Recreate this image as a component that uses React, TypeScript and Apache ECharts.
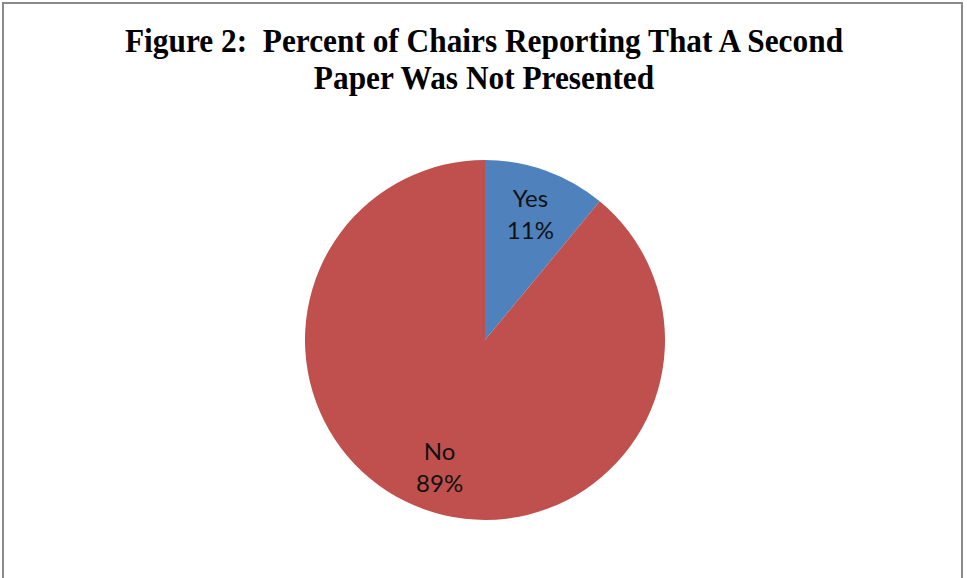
import React, { useEffect, useRef } from "react";
import * as echarts from "echarts";

const titleLines = ["Figure 2:  Percent of Chairs Reporting That A Second", "Paper Was Not Presented"];
const categories = ["Yes", "No"];
const values = [11, 89];
const colors = ["#4F81BD", "#C0504D"];

export default function App() {
  const ref = useRef<HTMLDivElement>(null);
  useEffect(() => {
    if (!ref.current) return;
    const chart = echarts.init(ref.current, null, { renderer: "svg" });
    const data = categories.map((name, i) => ({ name, value: values[i] }));
    chart.setOption({
      animation: false,
      backgroundColor: "#ffffff",
      graphic: [
        {
          type: "rect",
          shape: { x: 3, y: 3, width: 959, height: 620 },
          style: { fill: "none", stroke: "#8a8a8a", lineWidth: 2 },
          z: 0,
        },
        ...titleLines.map((t, i) => ({
          type: "text",
          x: 484,
          y: 41 + i * 37,
          scaleX: 0.95,
          style: {
            text: t,
            font: "bold 33px 'Liberation Serif', 'Times New Roman', serif",
            fill: "#000",
            align: "center",
            verticalAlign: "middle",
          },
        })),
      ],
      series: [
        {
          type: "pie",
          center: [485, 340],
          radius: [0, 180],
          startAngle: 90,
          clockwise: true,
          silent: true,
          label: { show: false },
          labelLine: { show: false },
          itemStyle: { borderWidth: 0, color: (p: any) => colors[p.dataIndex] },
          data,
        },
        {
          type: "pie",
          center: [485, 340],
          radius: [0, 262],
          startAngle: 90,
          clockwise: true,
          silent: true,
          itemStyle: { color: "rgba(0,0,0,0)", borderWidth: 0 },
          label: {
            show: true,
            position: "inside",
            formatter: (p: any) => `${p.name}\n${p.value}%`,
            fontFamily: "Lato, 'Open Sans', sans-serif",
            fontSize: 24,
            lineHeight: 32,
            color: "#111",
            align: "center",
          },
          labelLine: { show: false },
          data,
        },
      ],
    });
    return () => chart.dispose();
  }, []);
  return (
    <div
      ref={ref}
      style={{ position: "fixed", left: 0, top: 0, width: 967, height: 578 }}
    />
  );
}
